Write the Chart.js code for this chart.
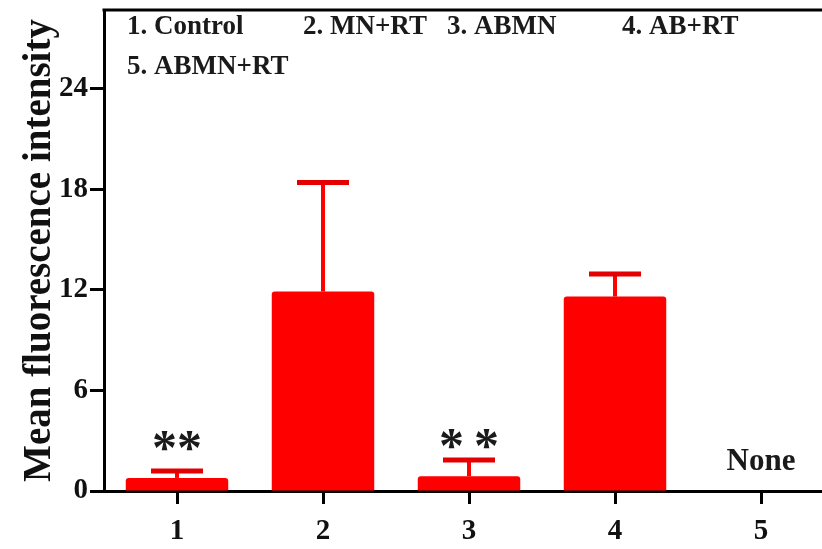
<!DOCTYPE html>
<html>
<head>
<meta charset="utf-8">
<script src="https://cdn.jsdelivr.net/npm/chart.js@4"></script>
<style>
  html, body { margin: 0; padding: 0; background: #fff; overflow: hidden; }
  #wrap { width: 822px; height: 549px; overflow: hidden; }
</style>
</head>
<body>
<div id="wrap"><canvas id="c" width="836" height="549"></canvas></div>
<script>
// ── Data ────────────────────────────────────────────────────────────
const groups   = ["1", "2", "3", "4", "5"];
const means    = [0.78, 11.9, 0.88, 11.6, 0];
const errHigh  = [1.2, 18.4, 1.85, 12.95, null];   // upper end of error bar
const yTicks   = [0, 6, 12, 18, 24];
const legendRow1 = ["1. Control", "2. MN+RT", "3. ABMN", "4. AB+RT"];
const legendRow2 = ["5. ABMN+RT"];
const marks    = [
  { index: 0, text: "**",      at: 3.0 },
  { index: 2, text: "*\u2009*", at: 3.1 },
  { index: 4, text: "None",    at: 1.75 },
];

const SERIF = "'Liberation Serif', 'Times New Roman', serif";

// ── Overlay: error bars, asterisks, legend text, top frame ──────────
const overlay = {
  id: "overlay",
  afterDatasetsDraw(chart) {
    const { ctx, chartArea: a, scales: { y } } = chart;
    const meta = chart.getDatasetMeta(0);
    ctx.save();

    errHigh.forEach((hi, i) => {
      if (hi == null) return;
      const bx   = meta.data[i].x;
      const top  = y.getPixelForValue(hi);
      const base = y.getPixelForValue(means[i]);
      ctx.strokeStyle = "#ff0000";
      ctx.lineWidth = 4;
      ctx.beginPath(); ctx.moveTo(bx, base); ctx.lineTo(bx, top); ctx.stroke();
      ctx.strokeStyle = "#e40000";
      ctx.lineWidth = 5;
      ctx.beginPath(); ctx.moveTo(bx - 26, top); ctx.lineTo(bx + 26, top); ctx.stroke();
    });

    ctx.fillStyle = "#1a1a1a";
    ctx.textAlign = "center";
    ctx.textBaseline = "middle";
    marks.forEach(m => {
      const bx = meta.data[m.index].x;
      const isWord = m.text === "None";
      ctx.font = isWord ? "bold 31px " + SERIF : "bold 50px " + SERIF;
      ctx.fillText(m.text, bx, y.getPixelForValue(m.at) + (isWord ? 0 : 10));
    });

    // legend text inside the plot
    ctx.textAlign = "left";
    ctx.font = "bold 27px " + SERIF;
    const cols = [23, 199, 343, 518];
    legendRow1.forEach((t, i) => ctx.fillText(t, a.left + cols[i], a.top + 17));
    legendRow2.forEach((t, i) => ctx.fillText(t, a.left + cols[i], a.top + 57));

    // top frame line
    ctx.strokeStyle = "#000";
    ctx.lineWidth = 3;
    ctx.beginPath(); ctx.moveTo(a.left - 1.5, a.top); ctx.lineTo(chart.width, a.top); ctx.stroke();
    ctx.restore();
  }
};

new Chart(document.getElementById("c"), {
  type: "bar",
  data: {
    labels: groups,
    datasets: [{
      data: means,
      backgroundColor: "#ff0000",
      borderWidth: 0,
      borderRadius: 3,
      barPercentage: 0.78,
      categoryPercentage: 0.9,
    }]
  },
  options: {
    responsive: false,
    animation: false,
    layout: { padding: { top: 10, right: 2, left: 0, bottom: 0 } },
    plugins: { legend: { display: false }, tooltip: { enabled: false } },
    scales: {
      x: {
        grid: { offset: false, drawOnChartArea: false, tickLength: 13, tickWidth: 3, tickColor: "#000" },
        border: { display: true, color: "#000", width: 3 },
        ticks: { color: "#111", padding: 10, font: { family: SERIF, size: 29, weight: "bold" } },
        afterFit(s) { s.height = 58; }
      },
      y: {
        min: 0,
        max: 28.7,
        afterBuildTicks(s) { s.ticks = yTicks.map(v => ({ value: v })); },
        grid: { drawOnChartArea: false, tickLength: 14, tickWidth: 3, tickColor: "#000" },
        border: { display: true, color: "#000", width: 3 },
        ticks: { color: "#111", padding: 2, font: { family: SERIF, size: 29, weight: "bold" } },
        title: {
          display: true,
          text: "Mean fluorescence intensity",
          color: "#111",
          padding: { top: 17, bottom: 0 },
          font: { family: SERIF, size: 39, weight: "bold" }
        },
        afterFit(s) { s.width = 104; s.paddingTop = 0; s.paddingBottom = 0; }
      }
    }
  },
  plugins: [overlay]
});
</script>
</body>
</html>
